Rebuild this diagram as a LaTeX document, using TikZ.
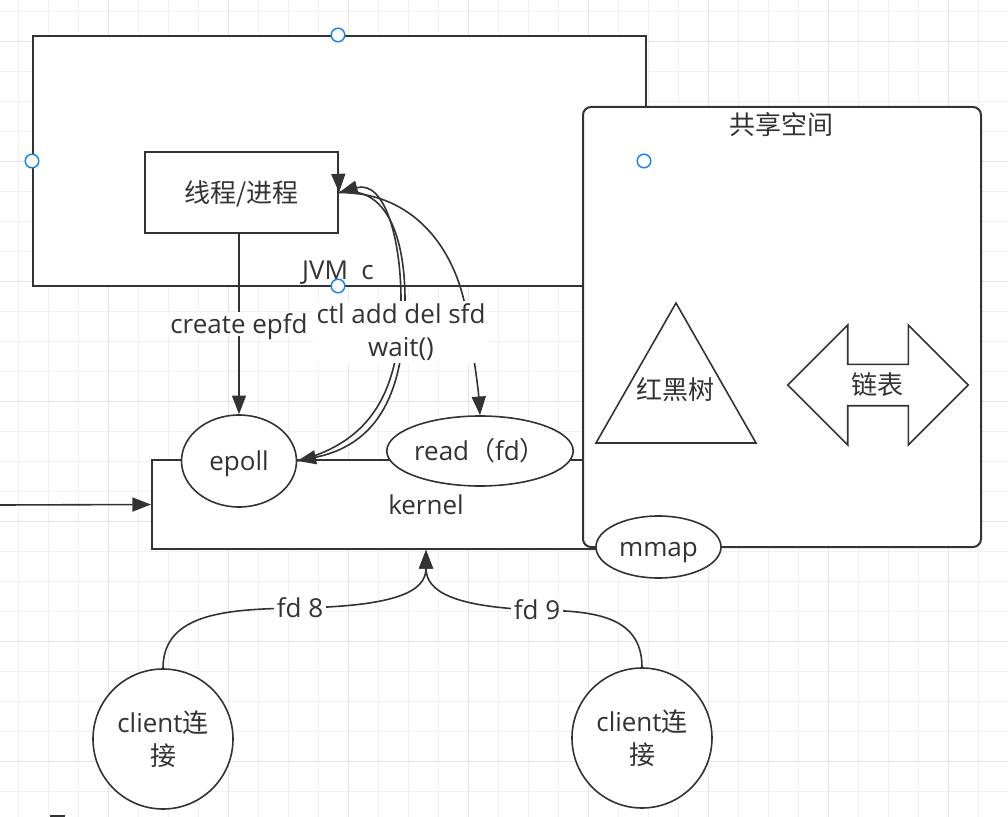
\documentclass[tikz,border=0pt]{standalone}
\usepackage{fontspec}
\setmainfont{Open Sans}
\newfontfamily\cjk{Noto Sans CJK SC}
\usetikzlibrary{arrows.meta,shapes.geometric}
\definecolor{ink}{HTML}{333333}
\definecolor{gridminorc}{HTML}{F1F1F1}
\definecolor{gridmajorc}{HTML}{E4E4E4}
\definecolor{handlec}{RGB}{22,128,238}
\begin{document}
\begin{tikzpicture}[x=0.75pt,y=-0.75pt,
  font=\fontsize{19.5}{24.75}\selectfont, text=ink,
  gridminor/.style={draw=gridminorc,line width=0.9pt},
  gridmajor/.style={draw=gridmajorc,line width=1.1pt},
  oneline/.style={text height=14.5pt,text depth=0pt},
  box/.style={draw=ink,line width=1.5pt,fill=white,inner sep=0pt,rectangle,oneline},
  oval/.style={draw=ink,line width=1.2pt,fill=white,inner sep=0pt,ellipse,oneline},
  circ/.style={draw=ink,line width=1.2pt,fill=white,inner sep=0pt,circle,align=center},
  edge/.style={draw=ink,line width=1.2pt,-{Triangle[length=14pt,width=10.5pt]}},
  lbl/.style={fill=white,inner sep=2pt},
  handle/.style={circle,draw=handlec,fill=white,line width=1.1pt,minimum size=10.2pt,inner sep=0pt}]

% page and background grid
\useasboundingbox (0,0) rectangle (1008,817);
\fill[white] (0,0) rectangle (1008,817);
\foreach \k in {0,...,33} {\draw[gridminor] ({18.3+30*\k},0) -- ({18.3+30*\k},817);}
\foreach \k in {0,...,27} {\draw[gridminor] (0,{11.7+30*\k}) -- (1008,{11.7+30*\k});}
\foreach \k in {0,...,7} {\draw[gridmajor] ({108.3+120*\k},0) -- ({108.3+120*\k},817);}
\foreach \k in {0,...,6} {\draw[gridmajor] (0,{41.7+120*\k}) -- (1008,{41.7+120*\k});}

% JVM container and kernel
\node[box,minimum width=459.75pt,minimum height=187.5pt] (jvm) at (339.5,161) {};
\node[oneline] (jvmlbl) at (338,270) {JVM\ \ c};
\node[box,minimum width=411pt,minimum height=66.75pt] (kernel) at (426,504.5) {kernel};

% shared memory area
\node[box,rounded corners=6pt,minimum width=298.5pt,minimum height=330pt] (shared) at (782,327) {};
\node[oneline] (sharedlbl) at (781,125) {\cjk 共享空间};
\draw[draw=ink,line width=1.2pt,fill=white] (676,303) -- (596,443) -- (756,443) -- cycle;
\node[oneline] (rbt) at (675,390) {\cjk 红黑树};
\draw[draw=ink,line width=1.2pt,fill=white] (787.7,385) -- (847.7,325) -- (847.7,364.3) -- (908.3,364.3) -- (908.3,325) -- (968.3,385) -- (908.3,445) -- (908.3,405.7) -- (847.7,405.7) -- (847.7,445) -- cycle;
\node[oneline] (list) at (877,385) {\cjk 链表};

% process, epoll, read, mmap
\node[box,minimum width=144.75pt,minimum height=60.75pt] (thread) at (241.5,192.5) {\cjk 线程/进程};
\node[oval,minimum width=86.25pt,minimum height=69pt] (epoll) at (239,461) {epoll};
\node[oval,minimum width=138pt,minimum height=52.5pt] (read) at (480,451) {read{\cjk （}fd{\cjk ）}};
\node[oval,minimum width=93.75pt,minimum height=46.5pt] (mmap) at (658.5,547) {mmap};

% clients
\node[circ,minimum size=105pt] (c1) at (163,739) {client{\cjk 连}\\{\cjk 接}};
\node[circ,minimum size=105pt] (c2) at (642,738) {client{\cjk 连}\\{\cjk 接}};

% connectors
\draw[edge] (thread.south -| epoll.north) -- node[lbl,oneline] (lblcreate) {create epfd} (epoll.north);
\draw[edge] (epoll.east) .. controls (380,440) and (400,380) .. (401,300)
  .. controls (401,240) and (385,180) .. (thread.east);
\draw[edge] (thread.east) .. controls (388,184) and (405,240) .. (405,300)
  .. controls (405,382) and (385,443) .. (epoll.east);
\draw[edge] (thread.east) .. controls (415,192) and (455,250) .. (466,310)
  .. controls (472,345) and (478,385) .. (read.north);
\coordinate (tipc) at (338,165);
\draw[edge] (tipc) -- (thread.east);
\node[lbl,align=center] (lblctl) at (401,332) {ctl add del sfd\\wait()};

\coordinate (lin) at (0,505);
\draw[edge] (lin) -- (kernel.west);

\draw[edge] (c1.north) .. controls (163,612) and (230,609) .. (300,608) node[lbl,oneline] (lblfd8) {fd 8}
  .. controls (395,606) and (426,592) .. (kernel.south);
\draw[edge] (c2.north) .. controls (642,614) and (590,611) .. (537,610) node[lbl,oneline] (lblfd9) {fd 9}
  .. controls (455,607) and (426,592) .. (kernel.south);

% stray mark at the lower edge
\draw[ink,line width=1.2pt] (50,816) -- (65,816);

% selection handles
\node[handle] (h1) at (338,35) {};
\node[handle] (h2) at (32,161) {};
\node[handle] (h3) at (338,286) {};
\node[handle] (h4) at (644,161) {};
\end{tikzpicture}
\end{document}
